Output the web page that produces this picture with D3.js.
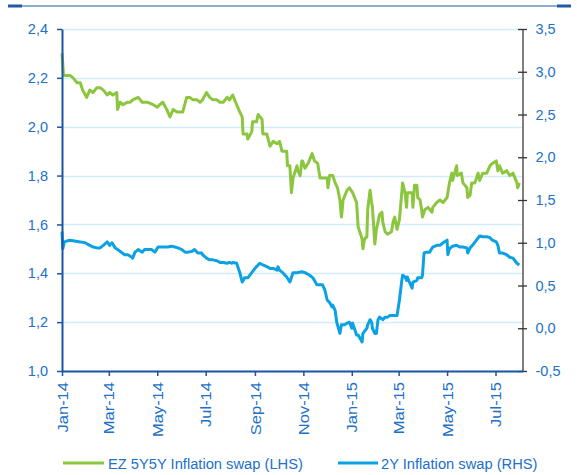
<!DOCTYPE html>
<html><head><meta charset="utf-8">
<script src="https://cdn.jsdelivr.net/npm/d3@7"></script>
<style>body{margin:0;background:#fff}svg{display:block}</style>
</head><body>
<svg id="c" width="577" height="475"></svg>
<script>
// ---------- DATA (dates as year-dayOfYear) ----------
const greenDates = ["2014-001","2014-003","2014-011","2014-015","2014-020","2014-024","2014-027","2014-032","2014-036","2014-040","2014-045","2014-049","2014-053","2014-058","2014-061","2014-065","2014-070","2014-071","2014-074","2014-078","2014-083","2014-087","2014-090","2014-097","2014-102","2014-105","2014-109","2014-116","2014-121","2014-124","2014-128","2014-133","2014-137","2014-141","2014-146","2014-150","2014-153","2014-158","2014-162","2014-166","2014-171","2014-175","2014-178","2014-183","2014-187","2014-191","2014-196","2014-200","2014-204","2014-209","2014-212","2014-216","2014-221","2014-225","2014-228","2014-229","2014-234","2014-235","2014-240","2014-241","2014-246","2014-248","2014-253","2014-254","2014-259","2014-263","2014-267","2014-272","2014-275","2014-278","2014-282","2014-284","2014-285","2014-288","2014-290","2014-292","2014-297","2014-298","2014-301","2014-303","2014-304","2014-307","2014-311","2014-316","2014-317","2014-319","2014-323","2014-326","2014-329","2014-335","2014-336","2014-338","2014-342","2014-345","2014-348","2014-351","2014-353","2014-355","2014-360","2014-363","2015-002","2015-007","2015-009","2015-011","2015-014","2015-015","2015-017","2015-020","2015-021","2015-024","2015-026","2015-027","2015-030","2015-032","2015-036","2015-039","2015-040","2015-043","2015-046","2015-051","2015-053","2015-055","2015-058","2015-061","2015-065","2015-068","2015-070","2015-071","2015-077","2015-078","2015-080","2015-083","2015-084","2015-087","2015-089","2015-090","2015-093","2015-097","2015-102","2015-103","2015-108","2015-112","2015-116","2015-121","2015-124","2015-127","2015-128","2015-133","2015-134","2015-139","2015-141","2015-146","2015-147","2015-150","2015-152","2015-156","2015-160","2015-162","2015-166","2015-171","2015-175","2015-178","2015-183","2015-185","2015-187","2015-191","2015-196","2015-200","2015-204","2015-209","2015-210","2015-212"];
const greenValues = [2.30,2.21,2.21,2.20,2.18,2.18,2.15,2.12,2.15,2.14,2.16,2.16,2.15,2.13,2.14,2.13,2.14,2.07,2.10,2.09,2.10,2.10,2.11,2.12,2.10,2.10,2.10,2.09,2.08,2.09,2.10,2.07,2.04,2.07,2.06,2.06,2.06,2.12,2.12,2.11,2.11,2.10,2.11,2.14,2.12,2.11,2.11,2.10,2.10,2.12,2.11,2.13,2.09,2.06,2.04,1.97,1.97,1.95,1.98,2.02,2.02,2.05,2.03,1.97,1.97,1.92,1.94,1.93,1.94,1.90,1.90,1.90,1.84,1.84,1.73,1.79,1.84,1.82,1.80,1.86,1.86,1.83,1.85,1.89,1.88,1.86,1.85,1.79,1.79,1.79,1.75,1.80,1.80,1.77,1.75,1.70,1.63,1.70,1.74,1.75,1.73,1.69,1.59,1.57,1.54,1.50,1.54,1.55,1.66,1.74,1.69,1.67,1.52,1.58,1.64,1.65,1.61,1.57,1.56,1.57,1.61,1.63,1.58,1.62,1.77,1.73,1.67,1.73,1.73,1.67,1.76,1.76,1.71,1.70,1.66,1.63,1.66,1.67,1.65,1.67,1.69,1.70,1.69,1.71,1.77,1.81,1.78,1.84,1.80,1.81,1.77,1.75,1.71,1.72,1.77,1.77,1.81,1.78,1.81,1.81,1.84,1.85,1.86,1.82,1.84,1.81,1.82,1.80,1.81,1.77,1.75,1.77];

const blueDates = ["2014-001","2014-002","2014-004","2014-007","2014-011","2014-017","2014-024","2014-030","2014-036","2014-040","2014-045","2014-049","2014-053","2014-058","2014-061","2014-064","2014-068","2014-071","2014-077","2014-080","2014-084","2014-089","2014-090","2014-093","2014-097","2014-102","2014-105","2014-109","2014-114","2014-118","2014-122","2014-127","2014-131","2014-134","2014-139","2014-143","2014-147","2014-152","2014-156","2014-160","2014-165","2014-168","2014-172","2014-177","2014-178","2014-183","2014-187","2014-191","2014-196","2014-200","2014-204","2014-209","2014-212","2014-215","2014-216","2014-221","2014-225","2014-228","2014-231","2014-235","2014-240","2014-244","2014-248","2014-250","2014-254","2014-259","2014-263","2014-267","2014-272","2014-273","2014-275","2014-279","2014-284","2014-288","2014-292","2014-297","2014-303","2014-307","2014-313","2014-317","2014-322","2014-326","2014-329","2014-332","2014-335","2014-338","2014-341","2014-342","2014-345","2014-347","2014-348","2014-351","2014-353","2014-357","2014-360","2014-363","2015-001","2015-002","2015-005","2015-007","2015-009","2015-011","2015-014","2015-015","2015-020","2015-021","2015-024","2015-026","2015-027","2015-030","2015-032","2015-034","2015-036","2015-040","2015-043","2015-046","2015-049","2015-053","2015-058","2015-059","2015-061","2015-064","2015-065","2015-068","2015-070","2015-071","2015-074","2015-077","2015-078","2015-083","2015-084","2015-089","2015-090","2015-092","2015-095","2015-099","2015-103","2015-108","2015-112","2015-116","2015-121","2015-122","2015-124","2015-128","2015-133","2015-137","2015-141","2015-146","2015-147","2015-150","2015-153","2015-158","2015-162","2015-166","2015-171","2015-175","2015-178","2015-183","2015-185","2015-187","2015-191","2015-196","2015-200","2015-204","2015-209","2015-212"];
const blueValues = [1.13,0.93,1.01,1.02,1.03,1.02,1.01,1.00,0.97,0.95,0.94,0.94,0.97,1.01,0.97,1.00,0.94,0.92,0.88,0.86,0.86,0.83,0.82,0.89,0.92,0.89,0.92,0.92,0.92,0.89,0.95,0.95,0.95,0.95,0.96,0.95,0.94,0.92,0.89,0.89,0.90,0.92,0.88,0.88,0.86,0.82,0.80,0.80,0.79,0.77,0.77,0.76,0.77,0.76,0.77,0.76,0.65,0.54,0.59,0.59,0.65,0.70,0.74,0.76,0.74,0.72,0.70,0.70,0.68,0.72,0.68,0.65,0.60,0.54,0.65,0.65,0.66,0.65,0.62,0.59,0.51,0.51,0.51,0.45,0.33,0.30,0.25,0.27,0.21,0.07,0.04,-0.06,0.04,0.04,0.06,0.07,0.00,0.06,-0.02,-0.08,-0.08,-0.11,-0.16,-0.06,0.00,0.04,0.10,0.07,0.00,-0.06,-0.06,0.10,0.13,0.10,0.13,0.13,0.15,0.15,0.15,0.21,0.33,0.56,0.62,0.60,0.56,0.60,0.53,0.47,0.54,0.56,0.59,0.59,0.62,0.88,0.89,0.89,0.95,0.97,0.97,1.00,1.03,0.86,0.93,0.96,0.97,0.95,0.95,0.94,0.88,0.94,0.97,1.03,1.08,1.07,1.07,1.06,1.03,1.01,0.97,0.88,0.88,0.86,0.83,0.82,0.76,0.74];

const leftTicks = [1.0,1.2,1.4,1.6,1.8,2.0,2.2,2.4];
const rightTicks = [-0.5,0.0,0.5,1.0,1.5,2.0,2.5,3.0,3.5];
const xTickDates = ["2014-01-01","2014-03-01","2014-05-01","2014-07-01","2014-09-01","2014-11-01","2015-01-01","2015-03-01","2015-05-01","2015-07-01"];
const xDomain = ["2014-01-01","2015-08-04"];
const seriesNames = ["EZ 5Y5Y Inflation swap (LHS)","2Y Inflation swap (RHS)"];

// ---------- STYLE ----------
const GREEN = "#8cc63e", BLUE = "#0ba1e2", AXIS = "#1d55a5", LABEL = "#2170c9", GRID = "#d3ecf9";
const FONT = "'Liberation Sans', Arial, sans-serif";

const parseDoy = d3.timeParse("%Y-%j");
const parseIso = d3.timeParse("%Y-%m-%d");
const locale = d3.formatLocale({decimal: ",", thousands: ".", grouping: [3], currency: ["", ""], minus: "-"});
const fmt = locale.format(".1f");

const svg = d3.select("#c");
const x = d3.scaleTime().domain(xDomain.map(parseIso)).range([62, 522.5]);
const yL = d3.scaleLinear().domain([1.0, 2.4]).range([371, 29]);
const yR = d3.scaleLinear().domain([-0.5, 3.5]).range([371, 29]);

// top rule
svg.append("line").attr("x1", 8).attr("x2", 570).attr("y1", 6).attr("y2", 6)
  .attr("stroke", "#1f5aa6").attr("stroke-width", 1.2);
svg.append("rect").attr("x", 8).attr("y", 4.5).attr("width", 14).attr("height", 3).attr("fill", "#1f5aa6");
svg.append("rect").attr("x", 557).attr("y", 4.5).attr("width", 14).attr("height", 3).attr("fill", "#1f5aa6");

// grid
svg.append("g").selectAll("line").data(leftTicks).join("line")
  .attr("x1", 62).attr("x2", 522.5)
  .attr("y1", d => Math.round(yL(d)) + 0.5).attr("y2", d => Math.round(yL(d)) + 0.5)
  .attr("stroke", GRID).attr("stroke-width", 1.3);

// series
const green = greenDates.map((d, i) => ({date: parseDoy(d), v: greenValues[i]}));
const blue = blueDates.map((d, i) => ({date: parseDoy(d), v: blueValues[i]}));
svg.append("path").datum(green)
  .attr("d", d3.line().x(d => x(d.date)).y(d => yL(d.v)))
  .attr("fill", "none").attr("stroke", GREEN).attr("stroke-width", 3).attr("stroke-linejoin", "round");
svg.append("path").datum(blue)
  .attr("d", d3.line().x(d => x(d.date)).y(d => yR(d.v)))
  .attr("fill", "none").attr("stroke", BLUE).attr("stroke-width", 3).attr("stroke-linejoin", "round");

// left axis
const gL = svg.append("g").attr("transform", "translate(62,0)")
  .call(d3.axisLeft(yL).tickValues(leftTicks).tickFormat(fmt).tickSize(5).tickSizeOuter(0).tickPadding(9));
gL.select(".domain").attr("stroke", AXIS).attr("stroke-width", 2);
gL.selectAll(".tick line").attr("stroke", AXIS).attr("stroke-width", 1.5);
gL.selectAll("text").attr("fill", LABEL).style("font-family", FONT).style("font-size", "14.5px");

// right axis
const gR = svg.append("g").attr("transform", "translate(522.5,0)")
  .call(d3.axisRight(yR).tickValues(rightTicks).tickFormat(fmt).tickSize(0).tickPadding(13));
gR.select(".domain").attr("stroke", "#000").attr("stroke-width", 1);
gR.selectAll(".tick").append("line").attr("x1", -4.5).attr("x2", 4.5).attr("stroke", "#333").attr("stroke-width", 1.3);
gR.selectAll("text").attr("fill", LABEL).style("font-family", FONT).style("font-size", "14.5px");

// bottom axis
const gB = svg.append("g").attr("transform", "translate(0,371)")
  .call(d3.axisBottom(x).tickValues(xTickDates.map(parseIso)).tickFormat(d3.timeFormat("%b-%y")).tickSize(5).tickSizeOuter(0));
gB.select(".domain").attr("stroke", AXIS).attr("stroke-width", 2.2);
gB.selectAll(".tick line").attr("stroke", AXIS).attr("stroke-width", 1.5);
gB.selectAll("text")
  .attr("fill", LABEL).style("font-family", FONT).style("font-size", "14.5px")
  .attr("text-anchor", "end")
  .attr("transform", "rotate(-90) scale(1.14,1)")
  .attr("x", -11 / 1.14).attr("y", 0).attr("dy", "0.35em");

// legend
const legend = [
  {name: seriesNames[0], color: GREEN, x0: 63, x1: 104, tx: 108},
  {name: seriesNames[1], color: BLUE, x0: 338, x1: 378, tx: 381}
];
const lg = svg.append("g");
legend.forEach(l => {
  lg.append("line").attr("x1", l.x0).attr("x2", l.x1).attr("y1", 463).attr("y2", 463)
    .attr("stroke", l.color).attr("stroke-width", 3);
  lg.append("text").attr("x", l.tx).attr("y", 469).text(l.name)
    .attr("fill", LABEL).style("font-family", FONT).style("font-size", "14.7px");
});
</script>
</body></html>
